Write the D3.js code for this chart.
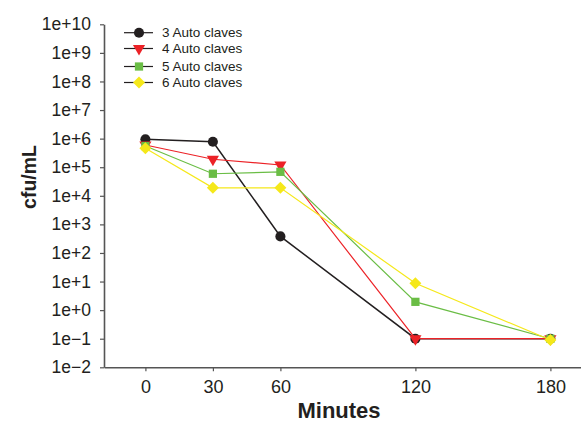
<!DOCTYPE html>
<html>
<head>
<meta charset="utf-8">
<script src="https://cdn.jsdelivr.net/npm/d3@7"></script>
<style>
  body { margin: 0; background: #fff; }
  svg { font-family: "Liberation Sans", Arial, sans-serif; }
</style>
</head>
<body>
<svg id="chart" width="581" height="424"></svg>
<script>
// data
const minutes = [0, 30, 60, 120, 180];
const seriesNames = ['3 Auto claves', '4 Auto claves', '5 Auto claves', '6 Auto claves'];
const autoclave3 = [9.5e5, 7.8e5, 380, 0.1, 0.1];
const autoclave4 = [6.0e5, 1.9e5, 1.2e5, 0.1, 0.1];
const autoclave5 = [5.5e5, 5.9e4, 6.9e4, 1.95, 0.1];
const autoclave6 = [4.6e5, 1.9e4, 1.9e4, 8.7, 0.09];
const yTickValues = [1e-2, 1e-1, 1e0, 1e1, 1e2, 1e3, 1e4, 1e5, 1e6, 1e7, 1e8, 1e9, 1e10];

const colors = ['#231f20', '#ec2227', '#6abd45', '#f5e81a'];
// diamond = square turned 45 degrees, triangle pointing down
const symbols = [d3.symbolCircle, d3.symbolTriangle, d3.symbolSquare, d3.symbolSquare];
const symbolSizes = [80, 64, 68, 72];
const symbolTurn = [0, 180, 0, 45];

const series = [autoclave3, autoclave4, autoclave5, autoclave6].map((vals, i) => ({
    name: seriesNames[i],
    points: vals.map((v, j) => ({ t: minutes[j], v: v }))
}));

const svg = d3.select('#chart');
const axisColor = '#555';

const x = d3.scaleLinear().domain([-18.4, 193.6]).range([104, 581]);
const y = d3.scaleLog().domain([1e-2, 1e10]).range([367.3, 24.3]);

const expFormat = d => {
    const e = Math.round(Math.log10(d));
    return e < 0 ? '1e\u2212' + Math.abs(e) : '1e+' + e;
};

// y axis
const gy = svg.append('g')
    .attr('transform', 'translate(104,0)')
    .call(d3.axisLeft(y).tickValues(yTickValues).tickFormat(expFormat)
        .tickSize(4).tickSizeOuter(0).tickPadding(9));

// x axis
const gx = svg.append('g')
    .attr('transform', 'translate(0,367.3)')
    .call(d3.axisBottom(x).tickValues(minutes).tickSize(4).tickSizeOuter(0).tickPadding(9));

gy.selectAll('text').style('font-size', '17.5px').attr('fill', '#231f20');
gx.selectAll('text').style('font-size', '18px').attr('fill', '#231f20');
[gx, gy].forEach(g => {
    g.select('.domain').attr('stroke', axisColor).attr('stroke-width', 1.6);
    g.selectAll('.tick line').attr('stroke', axisColor).attr('stroke-width', 1.2);
});

// axis titles
svg.append('text')
    .attr('x', 339).attr('y', 418)
    .attr('text-anchor', 'middle')
    .style('font-size', '22px').style('font-weight', 'bold')
    .attr('fill', '#231f20')
    .text('Minutes');

svg.append('text')
    .attr('transform', 'translate(36,177) rotate(-90)')
    .attr('text-anchor', 'middle')
    .style('font-size', '19.5px').style('font-weight', 'bold')
    .attr('fill', '#231f20')
    .text('cfu/mL');

// lines and markers
const line = d3.line().x(d => x(d.t)).y(d => y(d.v));

series.forEach((s, i) => {
    const g = svg.append('g').attr('class', 'series');
    g.append('path')
        .datum(s.points)
        .attr('d', line)
        .attr('fill', 'none')
        .attr('stroke', colors[i])
        .attr('stroke-width', i === 0 ? 1.5 : 1.2);
    g.selectAll('.pt')
        .data(s.points)
        .join('path')
        .attr('class', 'pt')
        .attr('d', d3.symbol().type(symbols[i]).size(symbolSizes[i]))
        .attr('transform', d => `translate(${x(d.t)},${y(d.v)}) rotate(${symbolTurn[i]})`)
        .attr('fill', colors[i]);
});

// legend
const legendRows = [32.7, 48.5, 66.5, 82.5];
const legend = svg.append('g');
series.forEach((s, i) => {
    const row = legend.append('g').attr('transform', `translate(124,${legendRows[i]})`);
    row.append('line')
        .attr('x1', 0).attr('x2', 29)
        .attr('stroke', '#231f20')
        .attr('stroke-width', 1.2);
    row.append('path')
        .attr('d', d3.symbol().type(symbols[i]).size(symbolSizes[i]))
        .attr('transform', `translate(15,0) rotate(${symbolTurn[i]})`)
        .attr('fill', colors[i]);
    row.append('text')
        .attr('x', 38).attr('dy', '0.35em')
        .style('font-size', '13.5px')
        .attr('fill', '#231f20')
        .text(s.name);
});
</script>
</body>
</html>
